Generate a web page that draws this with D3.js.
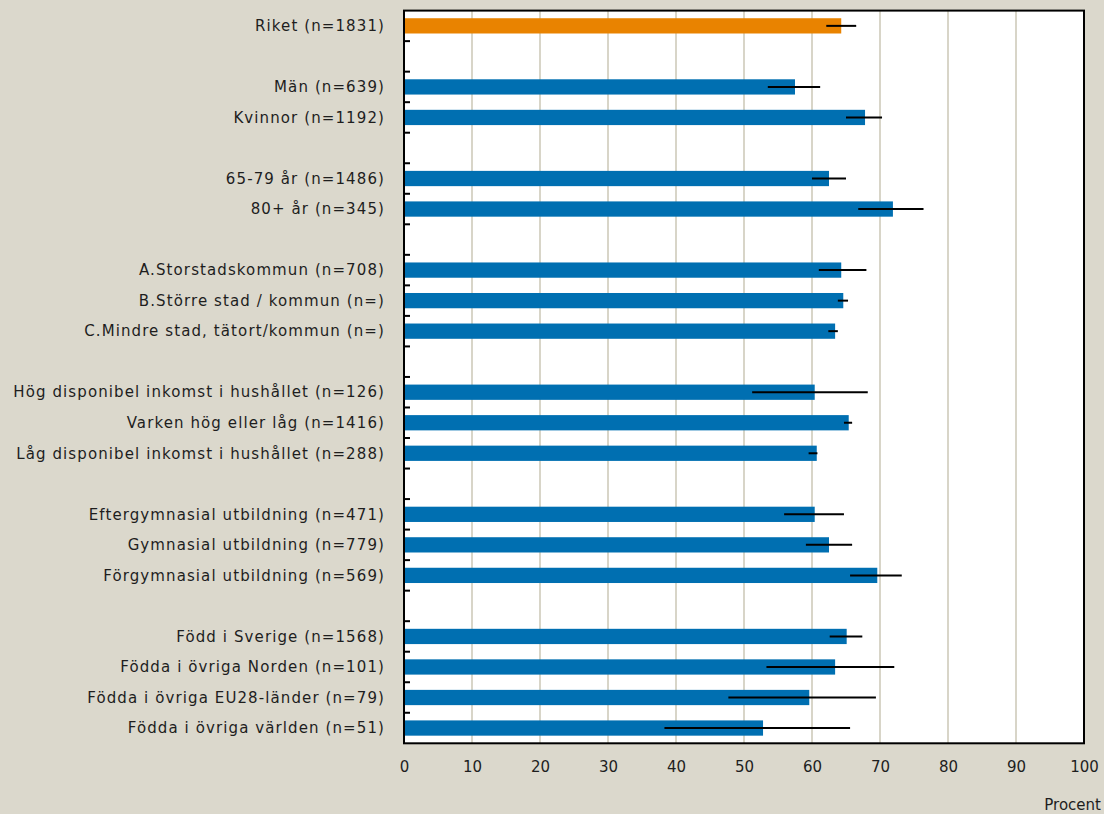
<!DOCTYPE html>
<html>
<head>
<meta charset="utf-8">
<script src="https://cdn.jsdelivr.net/npm/d3@7"></script>
<style>
  html, body { margin: 0; padding: 0; background: #dbd8cc; }
  svg { display: block; }
  text { font-family: "DejaVu Sans", sans-serif; fill: #1e1e1e; }
</style>
</head>
<body>
<svg id="chart" width="1104" height="814"></svg>
<script>
// Row labels, top to bottom
const labels = [
  "Riket (n=1831)",
  "Män (n=639)",
  "Kvinnor (n=1192)",
  "65-79 år (n=1486)",
  "80+ år (n=345)",
  "A.Storstadskommun (n=708)",
  "B.Större stad / kommun (n=)",
  "C.Mindre stad, tätort/kommun (n=)",
  "Hög disponibel inkomst i hushållet (n=126)",
  "Varken hög eller låg (n=1416)",
  "Låg disponibel inkomst i hushållet (n=288)",
  "Eftergymnasial utbildning (n=471)",
  "Gymnasial utbildning (n=779)",
  "Förgymnasial utbildning (n=569)",
  "Född i Sverige (n=1568)",
  "Födda i övriga Norden (n=101)",
  "Födda i övriga EU28-länder (n=79)",
  "Födda i övriga världen (n=51)"
];

// Share in percent
const values = [64.3, 57.5, 67.8, 62.5, 71.9, 64.3, 64.6, 63.4, 60.4, 65.4, 60.7, 60.4, 62.5, 69.6, 65.1, 63.4, 59.6, 52.8];

// Confidence interval, lower and upper bound (percent)
const ciLow  = [62.1, 53.5, 65.0, 60.0, 66.8, 61.0, 63.8, 62.4, 51.2, 64.7, 59.5, 55.9, 59.1, 65.6, 62.6, 53.3, 47.7, 38.3];
const ciHigh = [66.5, 61.2, 70.3, 65.0, 76.4, 68.0, 65.3, 63.8, 68.2, 65.9, 60.8, 64.7, 65.9, 73.2, 67.4, 72.1, 69.4, 65.6];

// Number of rows in each group; an empty row separates groups
const groupSizes = [1, 2, 2, 3, 3, 3, 4];

const xTicks = [0, 10, 20, 30, 40, 50, 60, 70, 80, 90, 100];
const xTitle = "Procent";

// Slot index for every row, leaving a blank slot between groups
const slots = [];
let slot = 0;
groupSizes.forEach((n, g) => {
  for (let i = 0; i < n; i++) slots.push(slot++);
  if (g < groupSizes.length - 1) slot++;
});
const slotCount = slot;

const rows = labels.map((label, i) => ({
  label, value: values[i], lo: ciLow[i], hi: ciHigh[i], slot: slots[i], national: i === 0
}));

const plot = { left: 404, right: 1084, top: 10.6, bottom: 743.3 };

const svg = d3.select("#chart");

const x = d3.scaleLinear().domain([0, 100]).range([plot.left, plot.right]);
const y = d3.scaleBand()
  .domain(d3.range(slotCount))
  .range([plot.top, plot.bottom])
  .paddingInner(0.5)
  .paddingOuter(0.25);

// Plot area
svg.append("rect")
  .attr("x", plot.left).attr("y", plot.top)
  .attr("width", plot.right - plot.left).attr("height", plot.bottom - plot.top)
  .attr("fill", "#ffffff");

// Vertical gridlines
svg.append("g")
  .selectAll("line")
  .data(xTicks.filter(t => t > 0 && t < 100))
  .join("line")
  .attr("x1", d => x(d)).attr("x2", d => x(d))
  .attr("y1", plot.top).attr("y2", plot.bottom)
  .attr("stroke", "#d8d5c8")
  .attr("stroke-width", 2);

// Bars
svg.append("g")
  .selectAll("rect")
  .data(rows)
  .join("rect")
  .attr("x", x(0))
  .attr("y", d => y(d.slot))
  .attr("width", d => x(d.value) - x(0))
  .attr("height", y.bandwidth())
  .attr("fill", d => d.national ? "#e98300" : "#006fb1");

// Confidence intervals
svg.append("g")
  .selectAll("line")
  .data(rows)
  .join("line")
  .attr("x1", d => x(d.lo)).attr("x2", d => x(d.hi))
  .attr("y1", d => y(d.slot) + y.bandwidth() / 2)
  .attr("y2", d => y(d.slot) + y.bandwidth() / 2)
  .attr("stroke", "#000")
  .attr("stroke-width", 2);

// Inward ticks between rows on the category axis
const step = (plot.bottom - plot.top) / slotCount;
svg.append("g")
  .selectAll("line")
  .data(d3.range(1, slotCount))
  .join("line")
  .attr("x1", plot.left).attr("x2", plot.left + 6)
  .attr("y1", d => plot.top + d * step)
  .attr("y2", d => plot.top + d * step)
  .attr("stroke", "#000")
  .attr("stroke-width", 2);

// Frame
svg.append("rect")
  .attr("x", plot.left).attr("y", plot.top)
  .attr("width", plot.right - plot.left).attr("height", plot.bottom - plot.top)
  .attr("fill", "none")
  .attr("stroke", "#000")
  .attr("stroke-width", 2);

// Category labels
svg.append("g")
  .selectAll("text")
  .data(rows)
  .join("text")
  .attr("x", 385)
  .attr("y", d => y(d.slot) + y.bandwidth() / 2)
  .attr("dy", "0.35em")
  .attr("text-anchor", "end")
  .attr("font-size", 15)
  .attr("letter-spacing", 1.1)
  .text(d => d.label);

// Value axis labels
const xAxis = svg.append("g")
  .attr("transform", `translate(0,${plot.bottom})`)
  .call(d3.axisBottom(x).tickValues(xTicks).tickSize(0).tickPadding(18).tickFormat(d3.format("d")));
xAxis.select(".domain").remove();
xAxis.selectAll("text")
  .attr("font-size", 15)
  .attr("font-family", "DejaVu Sans, sans-serif")
  .attr("fill", "#1e1e1e");

svg.append("text")
  .attr("x", 1101)
  .attr("y", 810)
  .attr("text-anchor", "end")
  .attr("font-size", 15)
  .text(xTitle);
</script>
</body>
</html>
